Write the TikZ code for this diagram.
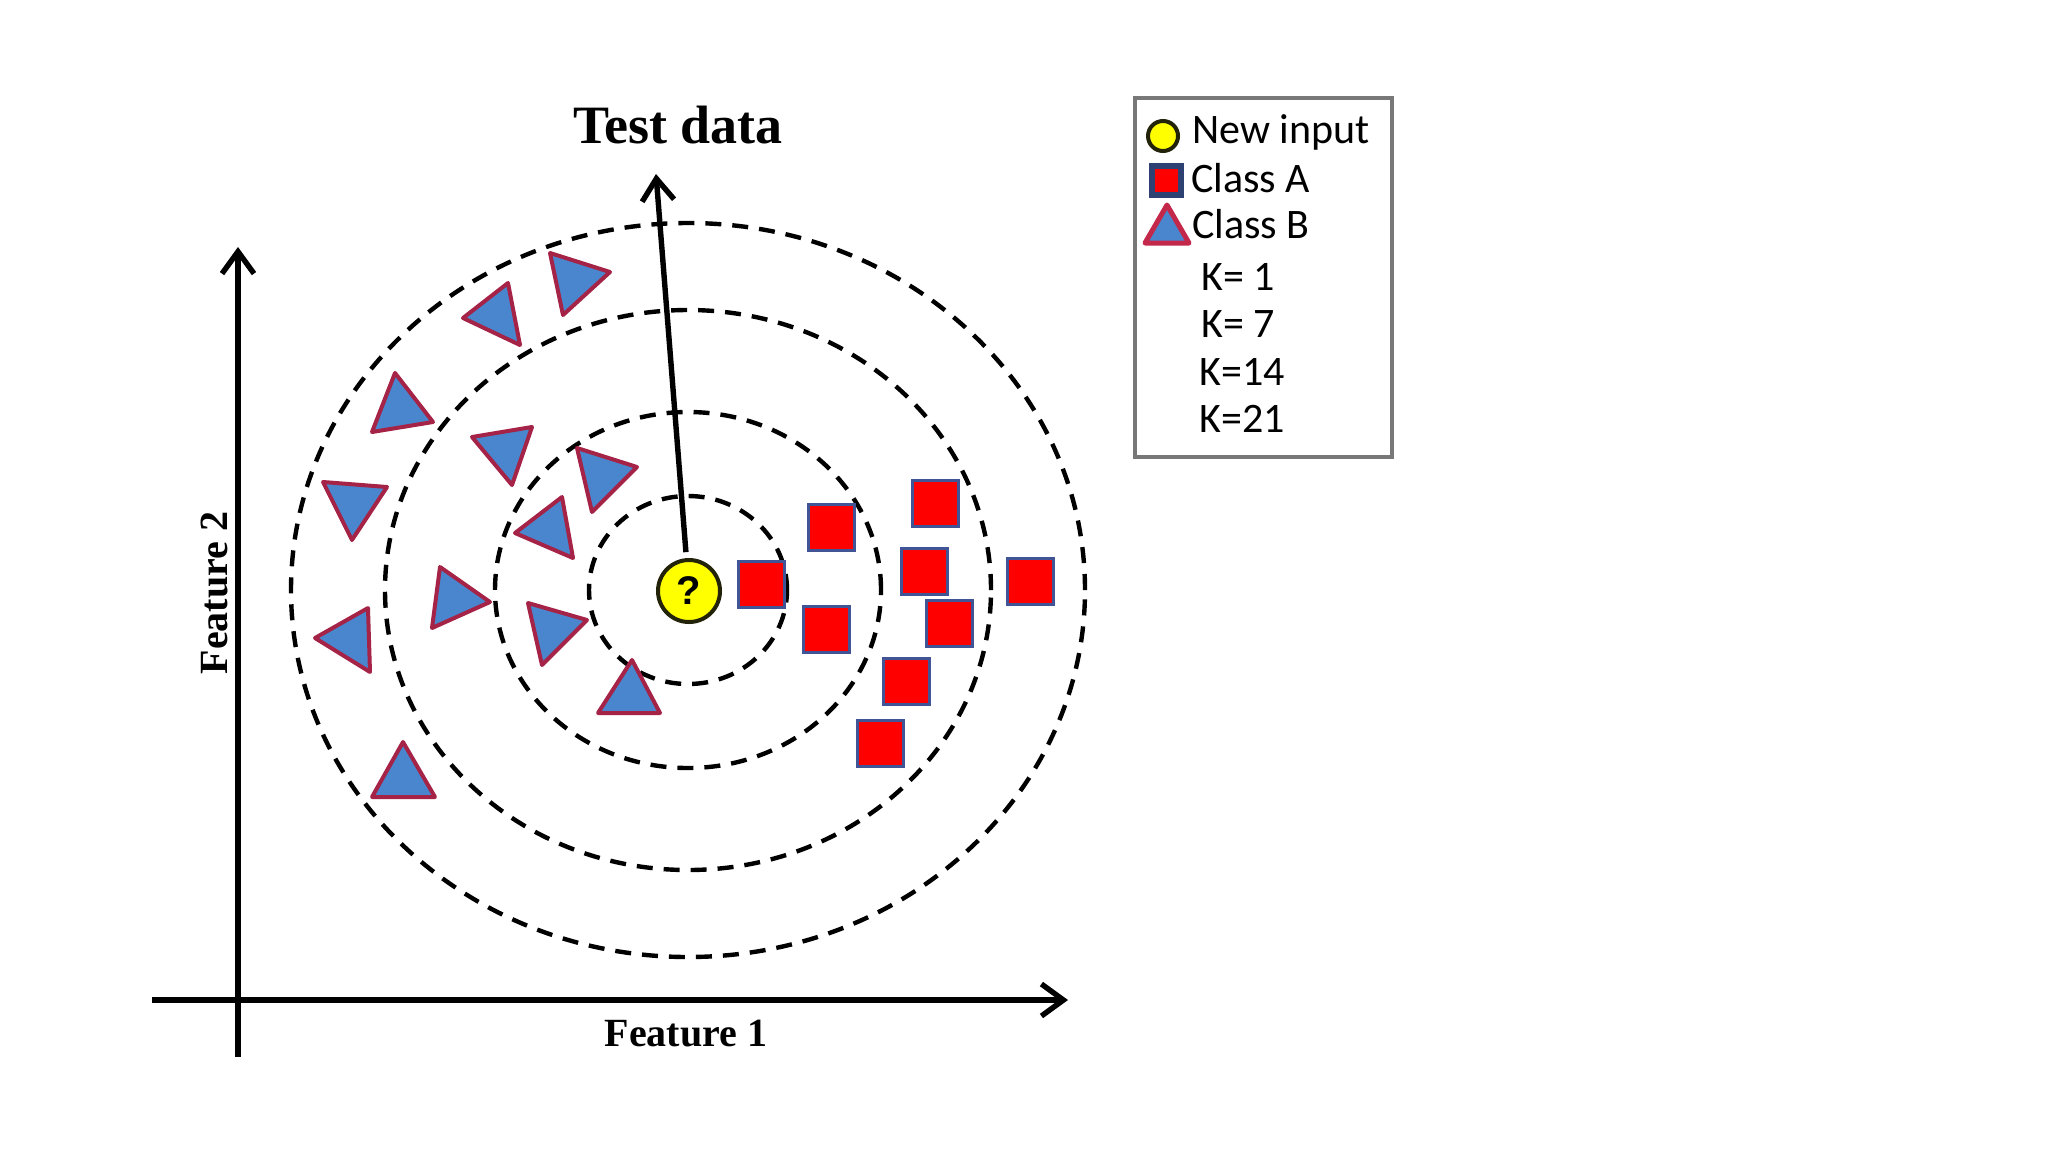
\documentclass[tikz,border=0pt]{standalone}
\usepackage{fontspec}
\setmainfont{Liberation Serif}
\newfontfamily\legfont{Carlito}
\newfontfamily\qfont{Liberation Sans}
\usetikzlibrary{arrows.meta}
\definecolor{sqred}{RGB}{255,0,0}
\definecolor{sqblue}{RGB}{64,84,150}
\definecolor{legsqblue}{RGB}{45,65,115}
\definecolor{trifill}{RGB}{74,134,206}
\definecolor{triedge}{RGB}{165,35,70}
\definecolor{legtriedge}{RGB}{195,40,75}
\definecolor{qyellow}{RGB}{255,255,0}
\definecolor{qedge}{RGB}{35,35,10}
\definecolor{legendgray}{RGB}{120,120,120}
\begin{document}
\begin{tikzpicture}[x=0.5pt,y=-0.5pt,
  axis/.style={line width=2.7pt,-{Straight Barb[length=11pt,width=16pt]}},
  ring/.style={line width=2.2pt,dash pattern=on 8pt off 5.5pt},
  sqnode/.style={rectangle,draw=sqblue,fill=sqred,line width=1.5pt,minimum size=23pt,inner sep=0pt},
  tri/.style={draw=triedge,fill=trifill,line width=2pt,line join=round},
  qnode/.style={circle,draw=qedge,fill=qyellow,line width=2pt,minimum size=31pt,inner sep=0pt,font=\qfont\bfseries\fontsize{20}{20}\selectfont},
  featlabel/.style={inner sep=0pt,font=\bfseries\fontsize{20}{24}\selectfont},
  legtext/.style={anchor=base west,inner sep=0pt,font=\legfont\fontsize{21}{24}\selectfont},
  legendbox/.style={draw=legendgray,line width=2pt,inner sep=0pt}]
\useasboundingbox (0,0) rectangle (2048,1152);
\fill[white] (0,0) rectangle (2048,1152);

% rings around the new input
\coordinate (c) at (688,590);
\draw[ring] (c) ellipse [x radius=49.5pt,y radius=47pt];
\draw[ring] (c) ellipse [x radius=96.5pt,y radius=89pt];
\draw[ring] (c) ellipse [x radius=151.5pt,y radius=140pt];
\draw[ring] (c) ellipse [x radius=198.5pt,y radius=183.5pt];

% axes
\coordinate (ybot) at (238,1057);
\coordinate (ytop) at (238,247);
\coordinate (xleft) at (152,1000);
\coordinate (xright) at (1068,1000);
\draw[axis] (ybot) -- (ytop);
\draw[axis] (xleft) -- (xright);
\node[featlabel,anchor=base] (f1) at (686,1046) {Feature 1};
\node[featlabel,anchor=base,rotate=90] (f2) at (227,593) {Feature 2};

% class B triangles
\draw[tri] (550,253) -- (610,272) -- (563,315) -- cycle;
\draw[tri] (508,283) -- (520,345) -- (463,318) -- cycle;
\draw[tri] (395,373) -- (433,422) -- (372,432) -- cycle;
\draw[tri] (472,437) -- (532,427) -- (512,485) -- cycle;
\draw[tri] (323,482) -- (387,487) -- (352,540) -- cycle;
\draw[tri] (577,448) -- (637,467) -- (592,512) -- cycle;
\draw[tri] (562,497) -- (573,558) -- (515,533) -- cycle;
\draw[tri] (440,567) -- (490,602) -- (432,628) -- cycle;
\draw[tri] (368,608) -- (370,672) -- (315,638) -- cycle;
\draw[tri] (528,603) -- (587,620) -- (542,665) -- cycle;
\draw[tri] (632,660) -- (660,713) -- (598,713) -- cycle;
\draw[tri] (403,742) -- (435,797) -- (372,797) -- cycle;

% class A squares
\node[sqnode] (a1) at (761,584) {};
\node[sqnode] (a2) at (831,527) {};
\node[sqnode] (a3) at (935,503) {};
\node[sqnode] (a4) at (924,571) {};
\node[sqnode] (a5) at (1030,581) {};
\node[sqnode] (a6) at (826,629) {};
\node[sqnode] (a7) at (949,623) {};
\node[sqnode] (a8) at (906,681) {};
\node[sqnode] (a9) at (880,743) {};

% new input and test data arrow
\node[qnode] (q) at (689,591) {?};
\coordinate (tdtip) at (656,174);
\draw[axis,shorten <=3pt] (q) -- (tdtip);
\node[inner sep=0pt,anchor=base,font=\bfseries\fontsize{27}{30}\selectfont] (td) at (678,143) {Test data};

% legend
\node[legendbox,minimum width=128.5pt,minimum height=179.5pt] (legend) at (1263.5,277.5) {};
\node[circle,draw=qedge,fill=qyellow,line width=2pt,minimum size=15pt,inner sep=0pt] (lq) at (1163,136) {};
\node[legtext] (lqt) at (1192,143) {New input};
\node[rectangle,draw=legsqblue,fill=sqred,line width=3pt,minimum size=14.5pt,inner sep=0pt] (la) at (1166,180) {};
\node[legtext] (lat) at (1191,192) {Class A};
\draw[draw=legtriedge,fill=trifill,line width=2.5pt,line join=round] (1167,205) -- (1189,243) -- (1145,243) -- cycle;
\node[legtext] (lbt) at (1192,238) {Class B};
\node[legtext] (k1) at (1201,290) {K= 1};
\node[legtext] (k7) at (1201,337) {K= 7};
\node[legtext] (k14) at (1199,385) {K=14};
\node[legtext] (k21) at (1199,432) {K=21};
\end{tikzpicture}
\end{document}
